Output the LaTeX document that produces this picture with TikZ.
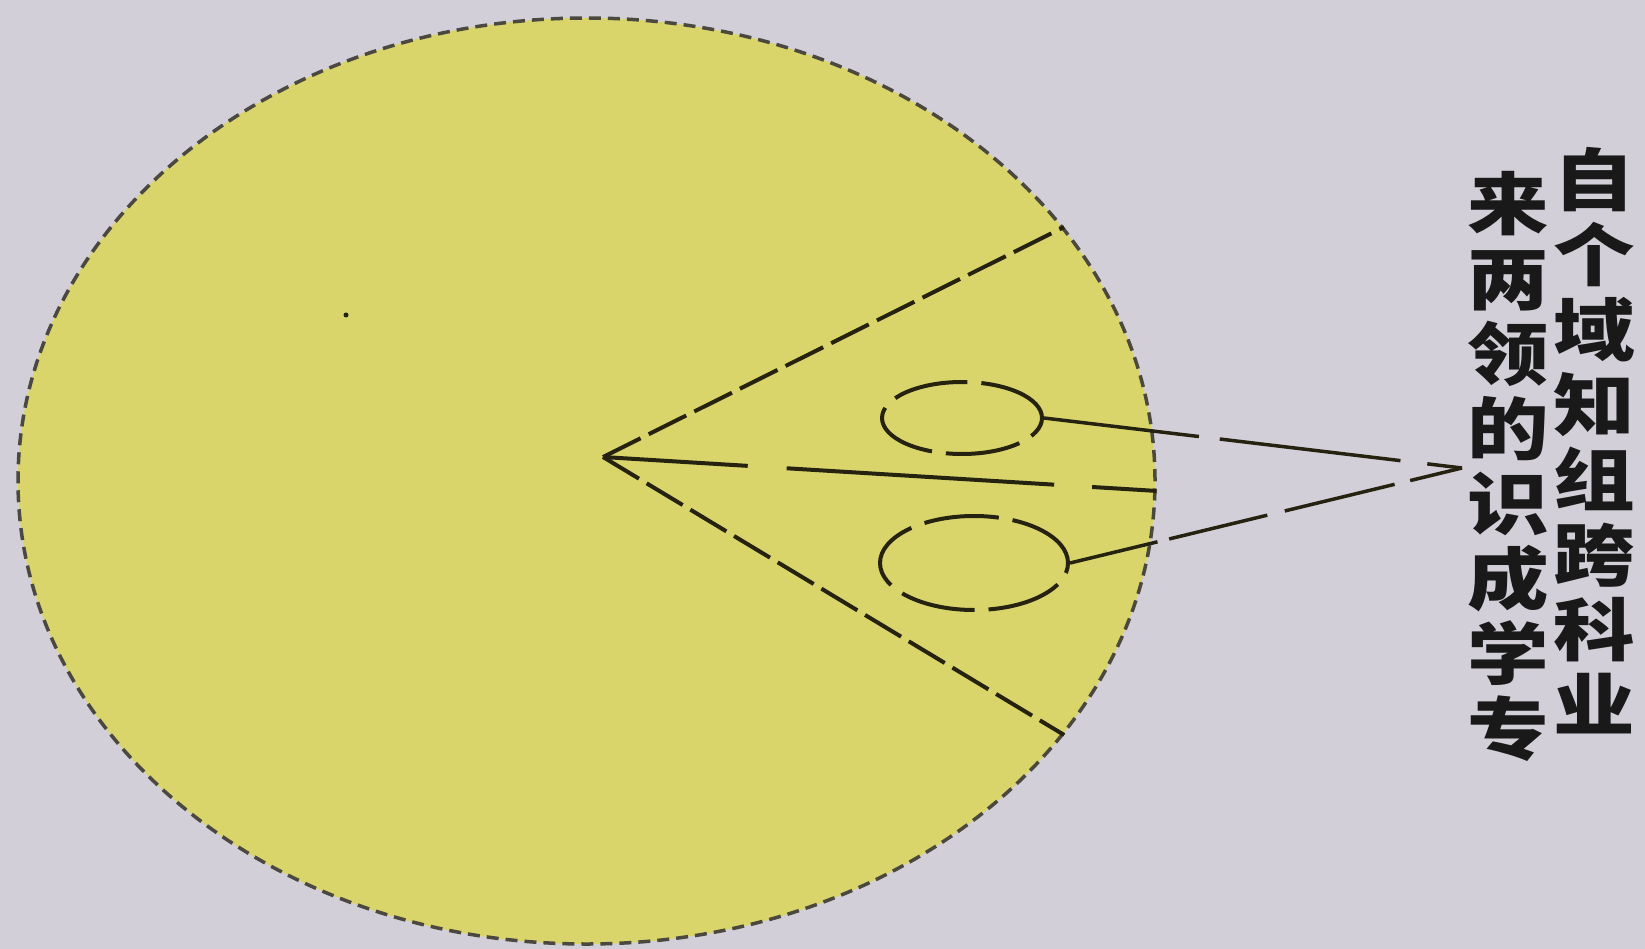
\documentclass[tikz,border=0pt]{standalone}
\usepackage{fontspec}
\newfontfamily\cjk{Noto Sans CJK SC}
\usetikzlibrary{shapes.geometric}
\definecolor{lavgray}{HTML}{D3CFD9}
\definecolor{discyellow}{HTML}{D9D56B}
\definecolor{inkline}{HTML}{25230F}
\definecolor{rimgray}{HTML}{4A483F}

\begin{document}
\begin{tikzpicture}[x=1pt, y=-1pt,
    bigdisc/.style={ellipse, draw=rimgray, fill=discyellow, line width=3.5pt,
                    dash pattern=on 12pt off 7pt, inner sep=0pt},
    blob/.style={ellipse, draw=inkline, line width=4pt, inner sep=0pt,
                 dash pattern=on 75pt off 14pt},
    rayline/.style={draw=inkline, line width=4pt, dash pattern=on 42pt off 9pt},
    link/.style={draw=inkline, line width=3.5pt},
    colchar/.style={font=\cjk\bfseries\fontsize{68}{75}\selectfont, align=center,
                    anchor=north, inner sep=0pt, xscale=1.2, text=black!90}
  ]
  \path[use as bounding box, fill=lavgray] (0,0) rectangle (1645,949);

  % the big field and the wedge cut out of it
  \node[bigdisc, minimum width=1137pt, minimum height=926pt] (disc) at (586.5,481) {};
  \fill[inkline] (346,315) circle (2.5pt);
  \coordinate (apex) at (603,457);
  \draw[rayline] (apex) -- (disc.28.6);
  \draw[rayline] (apex) -- (disc.-28.3);
  \draw[rayline, dash pattern=on 145pt off 39pt on 268pt off 38pt] (apex) -- (disc.-1.6);

  % the two small fields
  \node[blob, minimum width=160pt, minimum height=72pt] (upper) at (962,418) {};
  \node[blob, minimum width=188pt, minimum height=94pt] (lower) at (974,563) {};

  % label, two characters per row
  \node[colchar] (colR) at (1594,147) {自\\个\\域\\知\\组\\跨\\科\\业};
  \node[colchar] (colL) at (1508,171) {来\\两\\领\\的\\识\\成\\学\\专};

  \coordinate (meet) at (1462,468);
  \draw[link, dash pattern=on 156pt off 21pt on 182pt off 27pt on 60pt off 200pt] (upper.east) -- (meet);
  \draw[link, dash pattern=on 90pt off 12pt on 101pt off 18pt on 113pt off 16pt on 60pt off 200pt] (lower.east) -- (meet);
\end{tikzpicture}
\end{document}
